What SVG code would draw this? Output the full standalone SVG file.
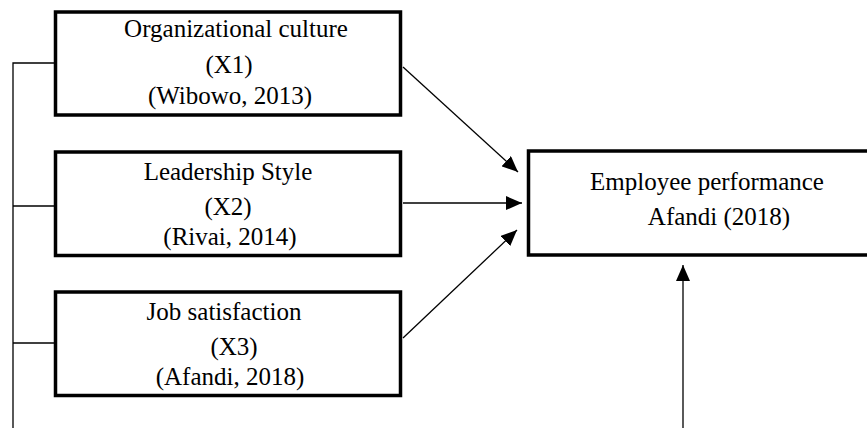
<svg xmlns="http://www.w3.org/2000/svg" width="867" height="428" viewBox="0 0 867 428">
<style>
.box{fill:#fff;stroke:#000;stroke-width:3.5}
.t{font-family:"Liberation Serif","Times New Roman",serif;font-size:25px;fill:#000;text-anchor:middle}
.ln{fill:none;stroke:#000;stroke-width:1.3}
</style>
<defs>
<marker id="ah" markerUnits="userSpaceOnUse" markerWidth="17" markerHeight="14" refX="16" refY="7" orient="auto">
<path d="M0,0 L16,7 L0,14 Z" fill="#000"/>
</marker>
</defs>
<rect width="867" height="428" fill="#fff"/>
<g id="connectors">
<path class="ln" d="M13,428 V63 H55"/>
<path class="ln" d="M13,206 H55"/>
<path class="ln" d="M13,343 H55"/>
<line class="ln" x1="403" y1="67" x2="518" y2="172" marker-end="url(#ah)"/>
<line class="ln" x1="403" y1="203" x2="522" y2="203" marker-end="url(#ah)"/>
<line class="ln" x1="403" y1="338" x2="517" y2="230" marker-end="url(#ah)"/>
<line class="ln" x1="683" y1="428" x2="683" y2="265" marker-end="url(#ah)"/>
</g>
<g id="x1">
<rect class="box" x="55.5" y="12" width="345" height="103"/>
<text class="t" x="236" y="37">Organizational culture</text>
<text class="t" x="229" y="73">(X1)</text>
<text class="t" x="230" y="104">(Wibowo, 2013)</text>
</g>
<g id="x2">
<rect class="box" x="55.5" y="152" width="345" height="103.5"/>
<text class="t" x="228" y="180">Leadership Style</text>
<text class="t" x="228" y="215">(X2)</text>
<text class="t" x="230" y="245">(Rivai, 2014)</text>
</g>
<g id="x3">
<rect class="box" x="55.5" y="292" width="345" height="103.5"/>
<text class="t" x="224" y="320">Job satisfaction</text>
<text class="t" x="234" y="355">(X3)</text>
<text class="t" x="230" y="385">(Afandi, 2018)</text>
</g>
<g id="y">
<rect class="box" x="528.5" y="151" width="345" height="104"/>
<text class="t" x="707" y="190">Employee performance</text>
<text class="t" x="719" y="225">Afandi (2018)</text>
</g>
</svg>
